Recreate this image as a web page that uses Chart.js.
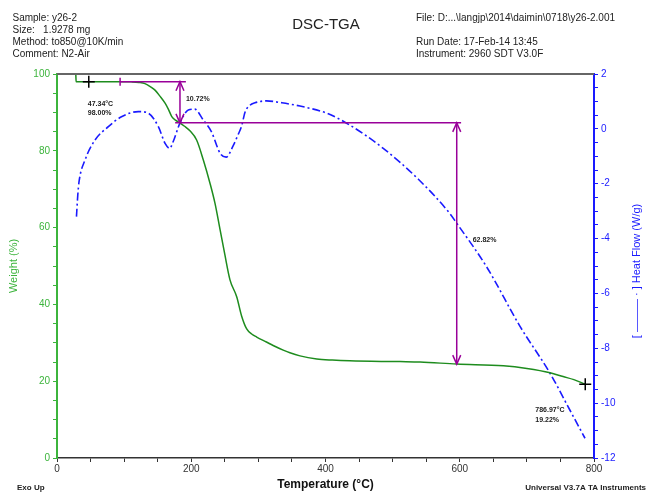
<!DOCTYPE html>
<html>
<head>
<meta charset="utf-8">
<title>DSC-TGA</title>
<script src="https://cdn.jsdelivr.net/npm/chart.js"></script>
<style>
  html, body { margin: 0; padding: 0; background: #fff; }
</style>
</head>
<body>
<canvas id="dscTga" width="648" height="495"></canvas>
<script>
// TGA weight curve (°C, %)
const weightTemp = [28, 28.5, 60, 100, 111, 122, 131, 140, 146, 153, 161, 166, 171, 177, 183,
  190, 198, 208, 218, 228, 235.4, 243, 250, 257.7, 267.7, 275, 282.6, 290, 297.5, 312, 322,
  337, 347, 362, 387, 410, 436, 511, 541, 595.5, 665, 700, 734.5, 754, 770, 786.97];
const weightPct = [100, 98.0, 98.0, 98.0, 97.95, 97.8, 97.5, 96.6, 95.8, 94.3, 92.4, 90.8, 88.9, 87.9, 87.28,
  86.4, 85.2, 82.8, 77.6, 71.5, 66.3, 59.4, 53.0, 46.4, 42.0, 37.0, 33.6, 32.3, 31.5, 30.2, 29.3,
  28.1, 27.4, 26.6, 25.8, 25.5, 25.3, 25.1, 25.0, 24.46, 24.0, 23.3, 22.2, 21.2, 20.4, 19.22];

// DSC heat flow curve (°C, W/g)
const heatTemp = [29, 31, 33, 41.7, 56.6, 76.5, 96, 121, 136, 151, 161, 168, 173, 183, 195.6, 205,
  218, 230, 243, 252, 262.7, 270, 275, 280, 287, 295, 312, 335, 362, 402, 436, 486, 538, 585,
  595.5, 640, 690, 734.5, 764, 786.6];
const heatFlow = [-3.2, -2.4, -1.9, -1.14, -0.41, 0.08, 0.44, 0.63, 0.57, 0.08, -0.53, -0.71, -0.47, 0.2, 0.69, 0.72,
  0.32, -0.1, -0.89, -1.03, -0.6, -0.2, 0.1, 0.6, 0.85, 0.95, 1.02, 0.95, 0.83, 0.57, 0.14, -0.71, -1.83, -3.08,
  -3.44, -5.03, -7.21, -8.91, -10.25, -11.28];

// weight-loss steps
const stepTemp = [183.2, 595.5];
const stepTop = [98.00, 87.28];
const stepBottom = [87.28, 24.46];
const stepLabels = ['10.72%', '62.82%'];

// baselines the steps are measured from
const baseLevel = [98.00, 87.28];
const baseFrom = [94, 176];
const baseTo = [192, 602];

// marked points
const markTemp = [47.34, 786.97];
const markPct = [98.00, 19.22];
const markLabels = [['47.34°C', '98.00%'], ['786.97°C', '19.22%']];

// axis tick labels
const tempTicks = [0, 200, 400, 600, 800];
const weightTicks = [0, 20, 40, 60, 80, 100];
const heatTicks = [-12, -10, -8, -6, -4, -2, 0, 2];

const FONT = '"Liberation Sans", Arial, sans-serif';
const GREEN = '#1e8c1e';
const AXIS_GREEN = '#3cb43c';
const BLUE = '#1a1aff';
const PURPLE = '#990099';

const pts = (xs, ys) => xs.map((x, i) => ({ x: x, y: ys[i] }));

const datasets = [
  {
    label: 'marks', data: pts(markTemp, markPct), yAxisID: 'y', showLine: false,
    pointStyle: 'cross', pointRadius: 6, pointBorderColor: '#000', pointBorderWidth: 1.5, order: 0
  },
  {
    label: 'Weight', data: pts(weightTemp, weightPct), yAxisID: 'y',
    borderColor: GREEN, borderWidth: 1.5, pointRadius: 0, cubicInterpolationMode: 'monotone', order: 2
  },
  {
    label: 'Heat Flow', data: pts(heatTemp, heatFlow), yAxisID: 'y1',
    borderColor: BLUE, borderWidth: 1.6, borderDash: [8, 3, 2, 3], pointRadius: 0,
    cubicInterpolationMode: 'monotone', order: 3
  }
];

baseLevel.forEach((lvl, i) => {
  datasets.push({
    data: [{ x: baseFrom[i], y: lvl }, { x: baseTo[i], y: lvl }], yAxisID: 'y',
    borderColor: PURPLE, borderWidth: 1.5, pointRadius: 0, order: 1
  });
});
stepTemp.forEach((t, i) => {
  datasets.push({
    data: [{ x: t, y: stepTop[i] }, { x: t, y: stepBottom[i] }], yAxisID: 'y',
    borderColor: PURPLE, borderWidth: 1.5, pointRadius: 0, order: 1
  });
});

const isTick = (list, v) => list.some(t => Math.abs(t - v) < 1e-6);

// arrowheads, step labels, frame and page text
const decor = {
  id: 'decor',
  afterDatasetsDraw(chart) {
    const { ctx, chartArea: a, scales } = chart;
    const x = scales.x, y = scales.y;
    ctx.save();

    // top frame line
    ctx.strokeStyle = '#666';
    ctx.lineWidth = 2;
    ctx.beginPath();
    ctx.moveTo(a.left, a.top);
    ctx.lineTo(a.right, a.top);
    ctx.stroke();

    // start tick of the first baseline
    ctx.strokeStyle = PURPLE;
    ctx.lineWidth = 1.5;
    const bx = x.getPixelForValue(baseFrom[0]);
    const by = y.getPixelForValue(baseLevel[0]);
    ctx.beginPath();
    ctx.moveTo(bx, by - 4);
    ctx.lineTo(bx, by + 4);
    ctx.stroke();

    // arrowheads on each step
    stepTemp.forEach((t, i) => {
      const px = x.getPixelForValue(t);
      const top = y.getPixelForValue(stepTop[i]);
      const bot = y.getPixelForValue(stepBottom[i]);
      ctx.beginPath();
      ctx.moveTo(px - 4, top + 9); ctx.lineTo(px, top); ctx.lineTo(px + 4, top + 9);
      ctx.moveTo(px - 4, bot - 9); ctx.lineTo(px, bot); ctx.lineTo(px + 4, bot - 9);
      ctx.stroke();
    });

    ctx.fillStyle = '#222';
    ctx.font = 'bold 7px ' + FONT;
    ctx.textAlign = 'left';
    ctx.textBaseline = 'middle';
    const labelDx = [6, 16];
    stepTemp.forEach((t, i) => {
      const px = x.getPixelForValue(t);
      const mid = (y.getPixelForValue(stepTop[i]) + y.getPixelForValue(stepBottom[i])) / 2;
      ctx.fillText(stepLabels[i], px + labelDx[i], mid - 3);
    });

    const markOff = [[-1, 22], [-50, 26]];
    markTemp.forEach((t, i) => {
      const px = x.getPixelForValue(t) + markOff[i][0];
      const py = y.getPixelForValue(markPct[i]) + markOff[i][1];
      ctx.fillText(markLabels[i][0], px, py);
      ctx.fillText(markLabels[i][1], px, py + 9.5);
    });
    ctx.restore();
  },
  afterDraw(chart) {
    const ctx = chart.ctx;
    const a = chart.chartArea;
    ctx.save();

    // right axis title reads upwards
    ctx.fillStyle = BLUE;
    ctx.font = '11px ' + FONT;
    ctx.textAlign = 'center';
    ctx.textBaseline = 'middle';
    ctx.translate(637, (a.top + a.bottom) / 2 + 5);
    ctx.rotate(-Math.PI / 2);
    ctx.fillText('[ ——— · ] Heat Flow (W/g)', 0, 0);
    ctx.setTransform(1, 0, 0, 1, 0, 0);

    ctx.fillStyle = '#222';
    ctx.textBaseline = 'alphabetic';
    ctx.textAlign = 'left';
    ctx.font = '10px ' + FONT;
    ['Sample: y26-2', 'Size:   1.9278 mg', 'Method: to850@10K/min', 'Comment: N2-Air']
      .forEach((s, i) => ctx.fillText(s, 12.5, 20.7 + i * 12));
    ctx.fillText('File: D:...\\langjp\\2014\\daimin\\0718\\y26-2.001', 416, 20.7);
    ctx.fillText('Run Date: 17-Feb-14 13:45', 416, 44.7);
    ctx.fillText('Instrument: 2960 SDT V3.0F', 416, 56.7);

    ctx.font = '15px ' + FONT;
    ctx.textAlign = 'center';
    ctx.fillText('DSC-TGA', 326, 29);

    ctx.font = 'bold 8px ' + FONT;
    ctx.textAlign = 'left';
    ctx.fillText('Exo Up', 17, 490);
    ctx.textAlign = 'right';
    ctx.fillText('Universal V3.7A TA Instruments', 646, 490);
    ctx.restore();
  }
};

new Chart(document.getElementById('dscTga'), {
  type: 'line',
  data: { datasets: datasets },
  options: {
    responsive: false,
    animation: false,
    events: [],
    layout: { padding: { top: 74, left: 0, right: 0, bottom: 0 } },
    plugins: { legend: { display: false }, tooltip: { enabled: false } },
    scales: {
      x: {
        type: 'linear', min: 0, max: 800,
        afterFit: s => { s.height = 37; },
        border: { color: '#333', width: 1.5 },
        grid: { drawOnChartArea: false, tickLength: 4, tickColor: '#333' },
        ticks: {
          stepSize: 50, autoSkip: false, maxRotation: 0, padding: 1,
          color: '#333', font: { family: FONT, size: 10 },
          callback: v => isTick(tempTicks, v) ? v : ''
        },
        title: {
          display: true, text: 'Temperature (°C)', color: '#111',
          font: { family: FONT, size: 12, weight: 'bold' }, padding: { top: 0, bottom: 3 }
        }
      },
      y: {
        position: 'left', min: 0, max: 100,
        afterFit: s => { s.width = 57; },
        border: { color: AXIS_GREEN, width: 2 },
        grid: { drawOnChartArea: false, tickLength: 4, tickColor: AXIS_GREEN },
        ticks: {
          stepSize: 5, autoSkip: false, padding: 3,
          color: AXIS_GREEN, font: { family: FONT, size: 10 },
          callback: v => isTick(weightTicks, v) ? v : ''
        },
        title: {
          display: true, text: 'Weight (%)', color: AXIS_GREEN,
          font: { family: FONT, size: 11 }, padding: { top: 7, bottom: 0 }
        }
      },
      y1: {
        position: 'right', min: -12, max: 2,
        afterFit: s => { s.width = 54; },
        border: { color: BLUE, width: 2 },
        grid: { drawOnChartArea: false, tickLength: 4, tickColor: BLUE },
        ticks: {
          stepSize: 0.5, autoSkip: false, padding: 3,
          color: BLUE, font: { family: FONT, size: 10 },
          callback: v => isTick(heatTicks, v) ? v : ''
        }
      }
    }
  },
  plugins: [decor]
});
</script>
</body>
</html>
